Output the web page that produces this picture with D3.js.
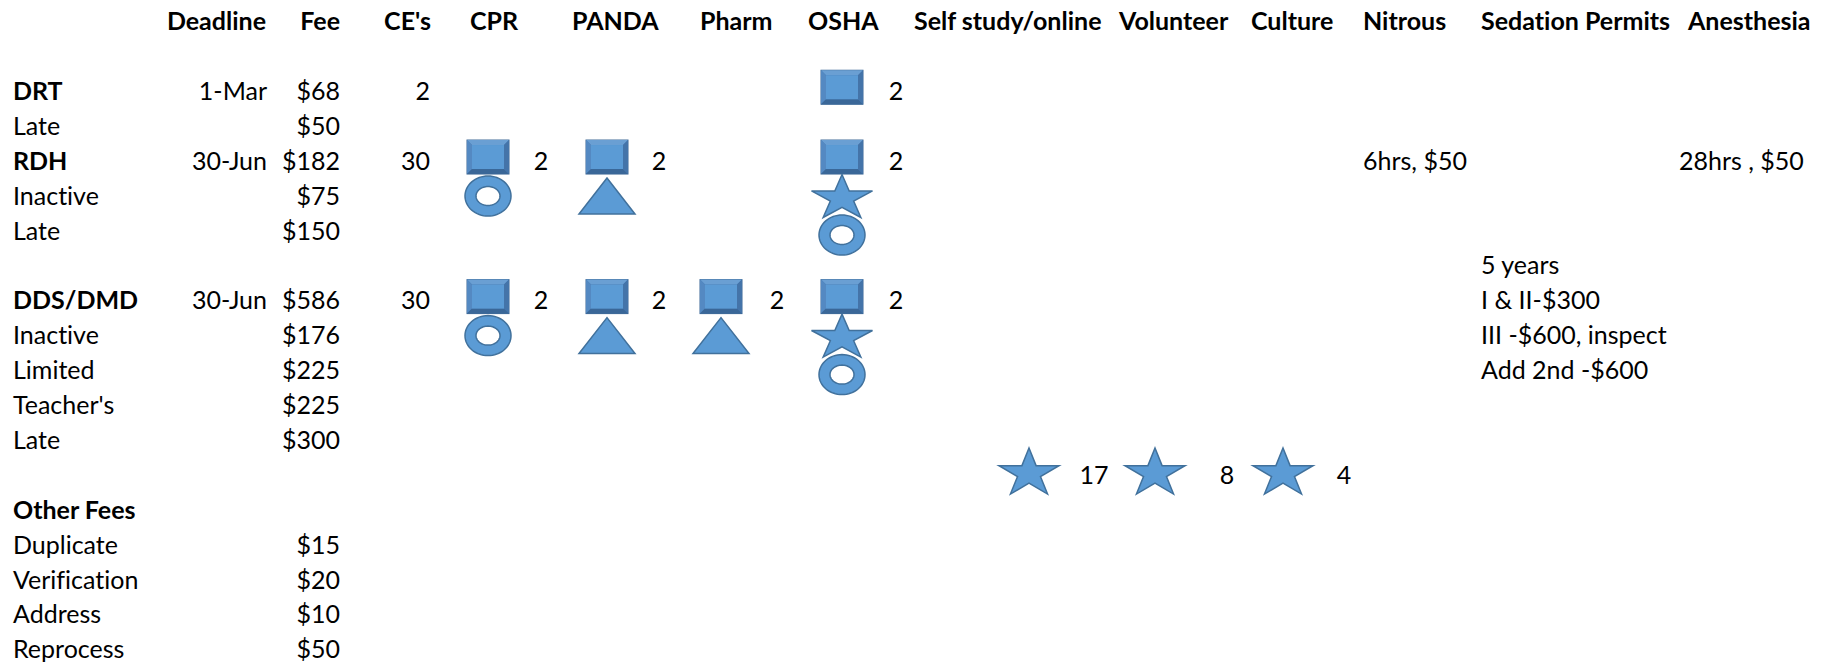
<!DOCTYPE html>
<html lang="en">
<head>
<meta charset="UTF-8">
<title>License fees and CE</title>
<script src="https://cdn.jsdelivr.net/npm/d3@7"></script>
<style>
	body { margin: 0; background: #fff; }
	svg text { font-family: Lato, "Open Sans", sans-serif; font-size: 25px; fill: #000;
		font-variant-ligatures: none; font-feature-settings: "liga" 0, "dlig" 0; }
</style>
</head>
<body>
<svg id="sheet"></svg>
<script>
// Data ---
const headers = ["Deadline", "Fee", "CE's", "CPR", "PANDA", "Pharm", "OSHA", "Self study/online",
	"Volunteer", "Culture", "Nitrous", "Sedation Permits", "Anesthesia"];

const rowLabels = ["DRT", "Late", "RDH", "Inactive", "Late", "DDS/DMD", "Inactive", "Limited",
	"Teacher's", "Late", "Other Fees", "Duplicate", "Verification", "Address", "Reprocess"];
const rowIndex = [2, 3, 4, 5, 6, 8, 9, 10, 11, 12, 14, 15, 16, 17, 18];
const boldLabels = ["DRT", "RDH", "DDS/DMD", "Other Fees"];
const deadlines = ["1-Mar", "", "30-Jun", "", "", "30-Jun", "", "", "", "", "", "", "", "", ""];
const fees = ["$68", "$50", "$182", "$75", "$150", "$586", "$176", "$225", "$225", "$300", "",
	"$15", "$20", "$10", "$50"];

const ceRows = [2, 4, 8];
const ceValues = [2, 30, 30];

// course requirement marks: row, course, stacked shapes, hours
const courseMarks = [
	{ row: 2, course: "OSHA", shapes: ["square"], hours: 2 },
	{ row: 4, course: "CPR", shapes: ["square", "donut"], hours: 2 },
	{ row: 4, course: "PANDA", shapes: ["square", "triangle"], hours: 2 },
	{ row: 4, course: "OSHA", shapes: ["square", "star", "donut"], hours: 2 },
	{ row: 8, course: "CPR", shapes: ["square", "donut"], hours: 2 },
	{ row: 8, course: "PANDA", shapes: ["square", "triangle"], hours: 2 },
	{ row: 8, course: "Pharm", shapes: ["square", "triangle"], hours: 2 },
	{ row: 8, course: "OSHA", shapes: ["square", "star", "donut"], hours: 2 }
];
const limitCourses = ["Self study/online", "Volunteer", "Culture"];
const limitHours = [17, 8, 4];
const limitRow = 13;

const notes = [
	{ row: 4, col: "Nitrous", text: "6hrs, $50" },
	{ row: 4, col: "Anesthesia", text: "28hrs , $50" },
	{ row: 7, col: "Sedation Permits", text: "5 years" },
	{ row: 8, col: "Sedation Permits", text: "I & II-$300" },
	{ row: 9, col: "Sedation Permits", text: "III -$600, inspect" },
	{ row: 10, col: "Sedation Permits", text: "Add 2nd -$600" }
];

// Layout ---
const width = 1837, height = 664;
const fill = "#5b9bd5", stroke = "#41719c";

const svg = d3.select("#sheet").attr("width", width).attr("height", height);

const y = d3.scaleBand().domain(d3.range(19)).range([4, 667]);
const rowY = i => y(i) + y.bandwidth() / 2;

const headerX = d3.scaleOrdinal(headers,
	[266, 340, 431, 470, 572, 700, 808, 914, 1119, 1251, 1363, 1481, 1688]);
const rightAligned = ["Deadline", "Fee", "CE's"];
const markX = d3.scaleOrdinal(["CPR", "PANDA", "Pharm", "OSHA", ...limitCourses],
	[488, 607, 721, 842, 1029, 1155, 1283]);
const hoursX = d3.scaleOrdinal(["CPR", "PANDA", "Pharm", "OSHA", ...limitCourses],
	[541, 659, 777, 896, 1094, 1227, 1344]);
const noteX = d3.scaleOrdinal(["Nitrous", "Sedation Permits", "Anesthesia"], [1363, 1481, 1679]);
const stackOffset = [-4, 35, 74];

// Headers ---
svg.append("g").selectAll("text")
	.data(headers)
	.join("text")
	.attr("x", d => headerX(d))
	.attr("y", rowY(0))
	.attr("dy", "0.35em")
	.attr("text-anchor", d => rightAligned.includes(d) ? "end" : "start")
	.style("font-weight", "bold")
	.text(d => d);

// Row labels, deadlines, fees ---
const rows = svg.append("g").selectAll("g")
	.data(rowLabels.map((label, i) => ({ label, row: rowIndex[i], deadline: deadlines[i], fee: fees[i] })))
	.join("g")
	.attr("transform", d => `translate(0,${rowY(d.row)})`);
rows.append("text")
	.attr("x", 13).attr("dy", "0.35em")
	.style("font-weight", d => boldLabels.includes(d.label) ? "bold" : null)
	.text(d => d.label);
rows.append("text")
	.attr("x", headerX("Deadline") + 1).attr("dy", "0.35em")
	.attr("text-anchor", "end")
	.text(d => d.deadline);
rows.append("text")
	.attr("x", headerX("Fee")).attr("dy", "0.35em")
	.attr("text-anchor", "end")
	.text(d => d.fee);

// CE's ---
svg.append("g").selectAll("text")
	.data(ceRows)
	.join("text")
	.attr("x", headerX("CE's") - 1)
	.attr("y", d => rowY(d))
	.attr("dy", "0.35em")
	.attr("text-anchor", "end")
	.text((d, i) => ceValues[i]);

// Shapes ---
function drawSquare(g) {
	const w = 42, h = 34, b = 5;
	g.append("rect").attr("x", -w / 2).attr("y", -h / 2).attr("width", w).attr("height", h)
		.attr("fill", "#4677ad").attr("stroke", "#3b6795").attr("stroke-width", 1);
	// bevel bands
	const o = [-w / 2, -h / 2, w / 2, h / 2], n = [-w / 2 + b, -h / 2 + b, w / 2 - b, h / 2 - b];
	const band = (pts, c) => g.append("path").attr("d", d3.line()(pts) + "Z").attr("fill", c);
	band([[o[0], o[1]], [o[2], o[1]], [n[2], n[1]], [n[0], n[1]]], "#6a9fd3");
	band([[o[0], o[1]], [n[0], n[1]], [n[0], n[3]], [o[0], o[3]]], "#5489c2");
	band([[o[0], o[3]], [n[0], n[3]], [n[2], n[3]], [o[2], o[3]]], "#3a6798");
	band([[o[2], o[1]], [o[2], o[3]], [n[2], n[3]], [n[2], n[1]]], "#4474a9");
	g.append("rect").attr("x", n[0]).attr("y", n[1]).attr("width", n[2] - n[0]).attr("height", n[3] - n[1])
		.attr("fill", fill);
}
function ellipsePath(rx, ry) {
	const p = d3.path();
	p.moveTo(rx, 0);
	d3.range(1, 65).forEach(k => {
		const a = k / 64 * 2 * Math.PI;
		p.lineTo(rx * Math.cos(a), ry * Math.sin(a));
	});
	p.closePath();
	return p.toString();
}
function drawDonut(g) {
	g.append("path")
		.attr("d", ellipsePath(23, 20) + ellipsePath(12, 9.5))
		.attr("fill-rule", "evenodd")
		.attr("fill", fill).attr("stroke", stroke).attr("stroke-width", 1.5);
}
function drawTriangle(g) {
	const w = 56, h = 36;
	g.append("path")
		.attr("d", d3.line()([[0, -h / 2], [w / 2, h / 2], [-w / 2, h / 2]]) + "Z")
		.attr("fill", fill).attr("stroke", stroke).attr("stroke-width", 1.5);
}
function drawStar(g, w = 61, h = 43) {
	const pts = d3.range(10).map(k => {
		const a = -Math.PI / 2 + k * Math.PI / 5, r = k % 2 ? 0.382 : 1;
		return [r * Math.cos(a), r * Math.sin(a)];
	});
	const xs = d3.extent(pts, p => p[0]), ys = d3.extent(pts, p => p[1]);
	const sx = d3.scaleLinear().domain(xs).range([-w / 2, w / 2]);
	const sy = d3.scaleLinear().domain(ys).range([-h / 2, h / 2]);
	g.append("path")
		.attr("d", d3.line()(pts.map(p => [sx(p[0]), sy(p[1])])) + "Z")
		.attr("fill", fill).attr("stroke", stroke).attr("stroke-width", 1.5);
}
const drawers = { square: drawSquare, donut: drawDonut, triangle: drawTriangle, star: drawStar };

const marks = svg.append("g").selectAll("g")
	.data(courseMarks)
	.join("g");
marks.each(function (d) {
	const g = d3.select(this);
	d.shapes.forEach((s, i) => {
		const sg = g.append("g")
			.attr("transform", `translate(${markX(d.course)},${rowY(d.row) + stackOffset[i]})`);
		drawers[s](sg);
	});
	g.append("text")
		.attr("x", hoursX(d.course))
		.attr("y", rowY(d.row))
		.attr("dy", "0.35em")
		.attr("text-anchor", "middle")
		.text(d.hours);
});

// Limits on self study / volunteer / culture ---
const limits = svg.append("g").selectAll("g")
	.data(limitCourses)
	.join("g");
limits.each(function (d, i) {
	const g = d3.select(this);
	drawStar(g.append("g").attr("transform", `translate(${markX(d)},${rowY(limitRow) - 4})`), 60, 46);
	g.append("text")
		.attr("x", hoursX(d))
		.attr("y", rowY(limitRow))
		.attr("dy", "0.35em")
		.attr("text-anchor", "middle")
		.text(limitHours[i]);
});

// Notes ---
svg.append("g").selectAll("text")
	.data(notes)
	.join("text")
	.attr("x", d => noteX(d.col))
	.attr("y", d => rowY(d.row))
	.attr("dy", "0.35em")
	.text(d => d.text);
</script>
</body>
</html>
